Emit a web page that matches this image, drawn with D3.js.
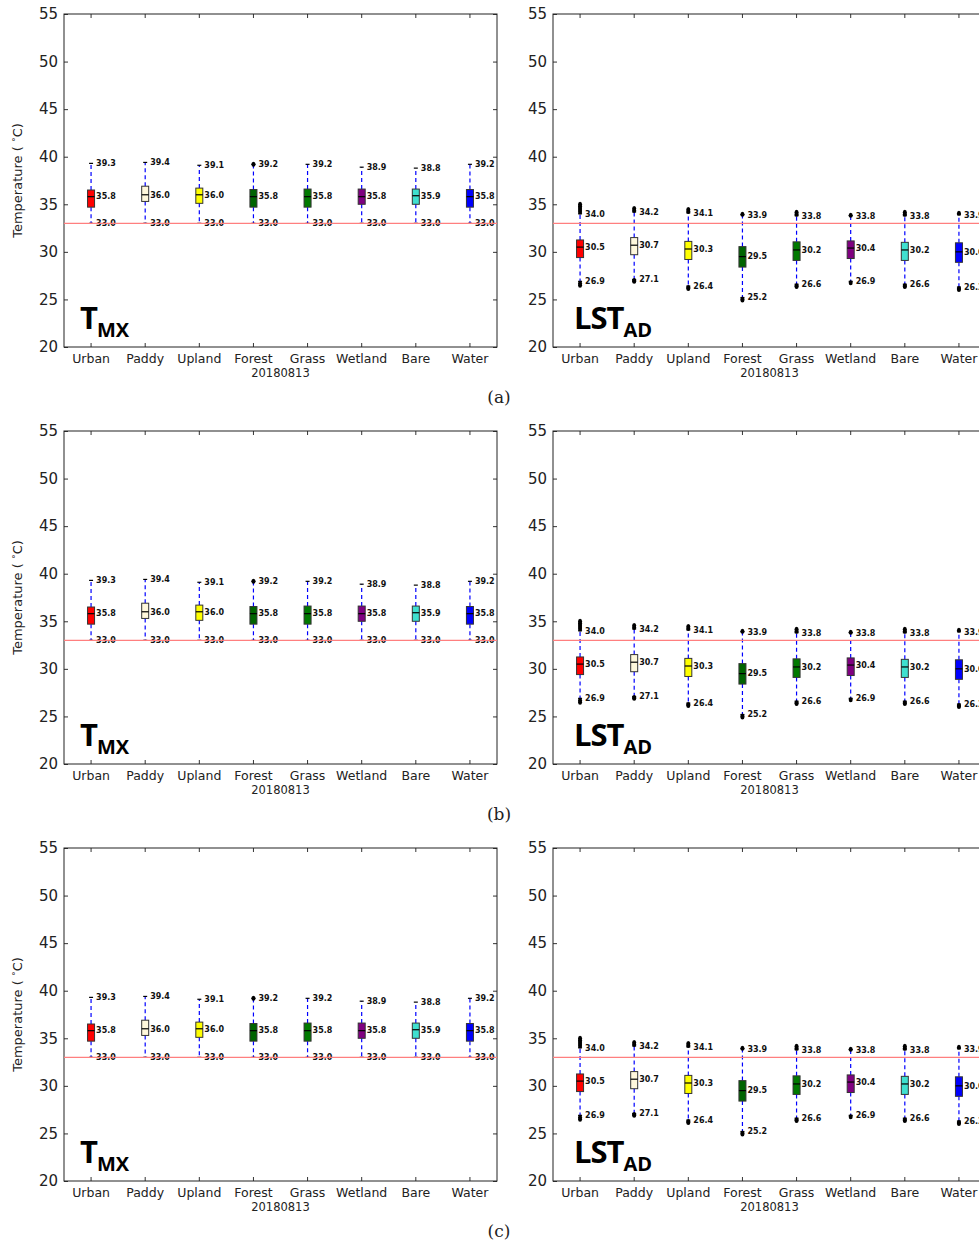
<!DOCTYPE html>
<html>
<head>
<meta charset="utf-8">
<script src="https://cdn.jsdelivr.net/npm/d3@7"></script>
<style>
  body { margin: 0; background: #fff; }
  svg { display: block; }
</style>
</head>
<body>
<div class="canvas"></div>
<script>
// data (same for all three rows)
const categories = ['Urban', 'Paddy', 'Upland', 'Forest', 'Grass', 'Wetland', 'Bare', 'Water'];
const boxColors = ['#ff0000', '#fff8dc', '#ffff00', '#006400', '#007a00', '#800080', '#40e0d0', '#0000ff'];
const yTicks = [20, 25, 30, 35, 40, 45, 50, 55];
const threshold = 33.0;
const dateLabel = '20180813';
const rowLabels = ['(a)', '(b)', '(c)'];

// T_MX boxes
const tmxQ1 = [34.7, 35.3, 35.1, 34.7, 34.7, 35.0, 35.0, 34.7];
const tmxMed = [35.8, 36.0, 36.0, 35.8, 35.8, 35.8, 35.9, 35.8];
const tmxQ3 = [36.5, 36.9, 36.7, 36.55, 36.6, 36.6, 36.6, 36.55];
const tmxLo = [33.0, 33.0, 33.0, 33.0, 33.0, 33.0, 33.0, 33.0];
const tmxHi = [39.3, 39.4, 39.1, 39.2, 39.2, 38.9, 38.8, 39.2];
const tmxFliersHi = [[], [], [], [39.2], [], [], [], []];
const tmxFliersLo = [[], [], [], [], [], [], [], []];

// LST_AD boxes
const lstQ1 = [29.4, 29.7, 29.2, 28.4, 29.1, 29.3, 29.1, 28.9];
const lstMed = [30.5, 30.7, 30.3, 29.5, 30.2, 30.4, 30.2, 30.0];
const lstQ3 = [31.25, 31.5, 31.1, 30.55, 31.05, 31.15, 31.0, 30.95];
const lstLo = [26.9, 27.1, 26.4, 25.2, 26.6, 26.9, 26.6, 26.3];
const lstHi = [34.0, 34.2, 34.1, 33.9, 33.8, 33.8, 33.8, 33.9];
const lstFliersHi = [[34.2, 34.4, 34.6, 34.8, 35.0], [34.35, 34.55], [34.25, 34.45], [33.95], [33.95, 34.15], [33.85], [33.95, 34.15], [34.05]];
const lstFliersLo = [[26.7, 26.5], [27.0, 26.9], [26.25, 26.15], [25.05, 24.95], [26.45, 26.35], [26.75], [26.45, 26.35], [26.15, 26.05]];

const svg = d3.select('.canvas')
  .append('svg')
  .attr('width', 979)
  .attr('height', 1240);

const graphWidth = 433;
const graphHeight = 333;
const rowTops = [14, 431, 848];
const colLefts = [64, 553];

const y = d3.scaleLinear().domain([20, 55]).range([graphHeight, 0]);
const x = d3.scaleBand().domain(categories).range([0, graphWidth]).paddingInner(0).paddingOuter(0);
const cx = d => x(d) + x.bandwidth() / 2;

const boxW = 7;

const drawPanel = (g, s, withYLabel) => {
  // spines + inward ticks
  const yAxis = d3.axisLeft(y).tickValues(yTicks).tickSizeInner(-4).tickSizeOuter(0).tickPadding(6);
  const yAxisR = d3.axisRight(y).tickValues(yTicks).tickSizeInner(-4).tickSizeOuter(0).tickFormat('');
  const xAxis = d3.axisBottom(x).tickSizeInner(-4).tickSizeOuter(0).tickPadding(7);
  const xAxisT = d3.axisTop(x).tickSizeInner(-4).tickSizeOuter(0).tickFormat('');

  const yg = g.append('g').call(yAxis);
  yg.selectAll('text').attr('font-size', 15).attr('font-family', 'DejaVu Sans').attr('fill', '#222');
  g.append('g').attr('transform', `translate(${graphWidth},0)`).call(yAxisR);
  const xg = g.append('g').attr('transform', `translate(0,${graphHeight})`).call(xAxis);
  xg.selectAll('text').attr('font-size', 12.5).attr('font-family', 'DejaVu Sans').attr('fill', '#222');
  g.append('g').call(xAxisT);
  g.selectAll('.domain').remove();
  g.selectAll('.tick line').attr('stroke', '#333');

  g.append('rect')
    .attr('width', graphWidth).attr('height', graphHeight)
    .attr('fill', 'none').attr('stroke', '#222').attr('stroke-width', 1);

  g.append('text')
    .attr('x', graphWidth / 2).attr('y', graphHeight + 30)
    .attr('text-anchor', 'middle')
    .attr('font-family', 'DejaVu Sans').attr('font-size', 11.5).attr('fill', '#222')
    .text(dateLabel);

  if (withYLabel) {
    const t = g.append('text')
      .attr('transform', `translate(-42,${graphHeight / 2}) rotate(-90)`)
      .attr('text-anchor', 'middle')
      .attr('font-family', 'DejaVu Sans').attr('font-size', 13).attr('fill', '#222');
    t.append('tspan').text('Temperature ( ');
    t.append('tspan').attr('baseline-shift', '35%').attr('font-size', 9.5).text('\u00b0');
    t.append('tspan').text('C)');
  }

  const items = g.selectAll('g.box')
    .data(categories.map((c, i) => ({
      c, i, q1: s.q1[i], med: s.med[i], q3: s.q3[i], lo: s.lo[i], hi: s.hi[i],
      fh: s.fh[i], fl: s.fl[i]
    })))
    .enter().append('g').attr('class', 'box');

  // whiskers (dashed blue)
  items.append('line')
    .attr('x1', d => cx(d.c)).attr('x2', d => cx(d.c))
    .attr('y1', d => y(d.q3)).attr('y2', d => y(d.hi))
    .attr('stroke', '#0000ff').attr('stroke-dasharray', '4,3').attr('stroke-width', 1.2);
  items.append('line')
    .attr('x1', d => cx(d.c)).attr('x2', d => cx(d.c))
    .attr('y1', d => y(d.q1)).attr('y2', d => y(d.lo))
    .attr('stroke', '#0000ff').attr('stroke-dasharray', '4,3').attr('stroke-width', 1.2);
  // caps
  items.append('line')
    .attr('x1', d => cx(d.c) - 2).attr('x2', d => cx(d.c) + 2)
    .attr('y1', d => y(d.hi)).attr('y2', d => y(d.hi))
    .attr('stroke', '#000').attr('stroke-width', 1.2);
  items.append('line')
    .attr('x1', d => cx(d.c) - 2).attr('x2', d => cx(d.c) + 2)
    .attr('y1', d => y(d.lo)).attr('y2', d => y(d.lo))
    .attr('stroke', '#000').attr('stroke-width', 1.2);
  // boxes
  items.append('rect')
    .attr('x', d => cx(d.c) - boxW / 2).attr('width', boxW)
    .attr('y', d => y(d.q3)).attr('height', d => y(d.q1) - y(d.q3))
    .attr('fill', d => boxColors[d.i]).attr('stroke', '#333').attr('stroke-width', 1);
  items.append('line')
    .attr('x1', d => cx(d.c) - boxW / 2).attr('x2', d => cx(d.c) + boxW / 2)
    .attr('y1', d => y(d.med)).attr('y2', d => y(d.med))
    .attr('stroke', '#000').attr('stroke-width', 1.2);
  // fliers
  items.each(function (d) {
    d3.select(this).selectAll('ellipse.f')
      .data(d.fh.concat(d.fl))
      .enter().append('ellipse')
      .attr('cx', cx(d.c)).attr('cy', v => y(v))
      .attr('rx', 2).attr('ry', 2.5)
      .attr('fill', '#000');
  });
  // value labels
  const lab = (sel, key) => sel.append('text')
    .attr('x', d => cx(d.c) + 5).attr('y', d => y(d[key]))
    .attr('dy', '0.35em')
    .attr('font-family', 'DejaVu Sans').attr('font-weight', 'bold')
    .attr('font-size', 8).attr('fill', '#111')
    .text(d => d[key].toFixed(1));
  lab(items, 'hi');
  lab(items, 'med');
  lab(items, 'lo');

  // threshold line
  g.append('line')
    .attr('x1', 0).attr('x2', graphWidth)
    .attr('y1', y(threshold)).attr('y2', y(threshold))
    .attr('stroke', '#ff7f7f').attr('stroke-width', 1.2);

  // panel tag
  const tag = g.append('text')
    .attr('x', s.tagX).attr('y', y(21.9))
    .attr('font-family', 'Open Sans').attr('font-weight', 'bold')
    .attr('font-size', 31).attr('fill', '#000').attr('letter-spacing', -1);
  tag.append('tspan').text(s.main);
  tag.append('tspan').attr('dy', 8).attr('font-size', 20).attr('letter-spacing', 0).text(s.sub);
};

const tmx = { q1: tmxQ1, med: tmxMed, q3: tmxQ3, lo: tmxLo, hi: tmxHi, fh: tmxFliersHi, fl: tmxFliersLo, main: 'T', sub: 'MX', tagX: 16 };
const lst = { q1: lstQ1, med: lstMed, q3: lstQ3, lo: lstLo, hi: lstHi, fh: lstFliersHi, fl: lstFliersLo, main: 'LST', sub: 'AD', tagX: 21 };

rowTops.forEach((top, r) => {
  const gl = svg.append('g').attr('transform', `translate(${colLefts[0]},${top})`);
  drawPanel(gl, tmx, true);
  const gr = svg.append('g').attr('transform', `translate(${colLefts[1]},${top})`);
  drawPanel(gr, lst, false);
  svg.append('text')
    .attr('x', 499).attr('y', top + 389)
    .attr('text-anchor', 'middle')
    .attr('font-family', 'DejaVu Serif').attr('font-size', 17).attr('fill', '#222')
    .text(rowLabels[r]);
});
</script>
</body>
</html>
